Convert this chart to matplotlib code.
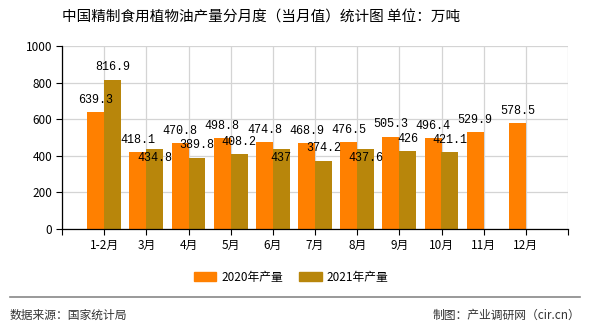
"""
中国精制食用植物油产量分月度（当月值）统计图 - bar chart recreation.
"""
import numpy as np
import matplotlib
matplotlib.use('Agg')
import matplotlib.pyplot as plt
from matplotlib.patches import Patch

plt.rcParams['font.family'] = ['Noto Sans CJK SC', 'DejaVu Sans']

# Data
months = ['1-2月', '3月', '4月', '5月', '6月', '7月', '8月', '9月', '10月', '11月', '12月']
output_2020 = [639.3, 418.1, 470.8, 498.8, 474.8, 468.9, 476.5, 505.3, 496.4, 529.9, 578.5]
output_2021 = [816.9, 434.8, 389.8, 408.2, 437, 374.2, 437.6, 426, 421.1, None, None]
y_ticks = [0, 200, 400, 600, 800, 1000]

color_2020 = '#FF8000'
color_2021 = '#B8860B'

fig = plt.figure(figsize=(5.9, 3.3), dpi=100)
ax = fig.add_axes([62 / 590, 1 - 229 / 330, (568 - 62) / 590, (229 - 46) / 330])

x = np.arange(len(months))
w = 0.4
ax.bar(x - w / 2, output_2020, width=w, color=color_2020, zorder=2)
x21 = [i for i, v in enumerate(output_2021) if v is not None]
v21 = [v for v in output_2021 if v is not None]
ax.bar(np.array(x21) + w / 2, v21, width=w, color=color_2021, zorder=2)

# value labels
label_font = dict(family='Liberation Mono', fontsize=8.5, ha='center', va='center', zorder=3)
for i, v in enumerate(output_2020):
    ax.text(i - w / 2, v + 66, f'{v:g}', **label_font)
for i, v in zip(x21, v21):
    # put label under the bar top when it would collide with the 2020 label
    off = -47 if abs(output_2020[i] - v) < 50 else 67
    ax.text(i + w / 2, v + off, f'{v:g}', **label_font)

ax.set_xlim(-1, len(months))
ax.set_ylim(0, 1000)
ax.set_yticks(y_ticks)
ax.set_xticks(np.arange(-1, len(months) + 1))
ax.set_xticklabels([''] + months + [''])
ax.tick_params(axis='both', labelsize=8.5, length=4, width=0.8, color='black', pad=3)
ax.grid(True, color='#d4d4d4', linewidth=0.9, zorder=0)
for side in ['top', 'right']:
    ax.spines[side].set_visible(False)
ax.spines['left'].set_linewidth(0.9)
ax.spines['bottom'].set_linewidth(0.9)

fig.text(261 / 590, 1 - 18 / 330, '中国精制食用植物油产量分月度（当月值）统计图 单位：万吨',
         ha='center', va='center', fontsize=10.5)

handles = [Patch(color=color_2020, label='2020年产量'), Patch(color=color_2021, label='2021年产量')]
fig.legend(handles=handles, loc='center', bbox_to_anchor=(291 / 590, 1 - 277 / 330), ncol=2,
           frameon=False, fontsize=8.5, handlelength=1.9, handleheight=0.7, columnspacing=1.4,
           handletextpad=0.4)

fig.add_artist(plt.Line2D([10 / 590, 580 / 590], [1 - 297 / 330] * 2, color='#888888', linewidth=1.2))
fig.text(10 / 590, 1 - 315 / 330, '数据来源：国家统计局', ha='left', va='center', fontsize=8.5, color='#333333')
fig.text(580 / 590, 1 - 315 / 330, '制图：产业调研网（cir.cn）', ha='right', va='center', fontsize=8.5, color='#333333')

fig.savefig('out.png', dpi=100)
